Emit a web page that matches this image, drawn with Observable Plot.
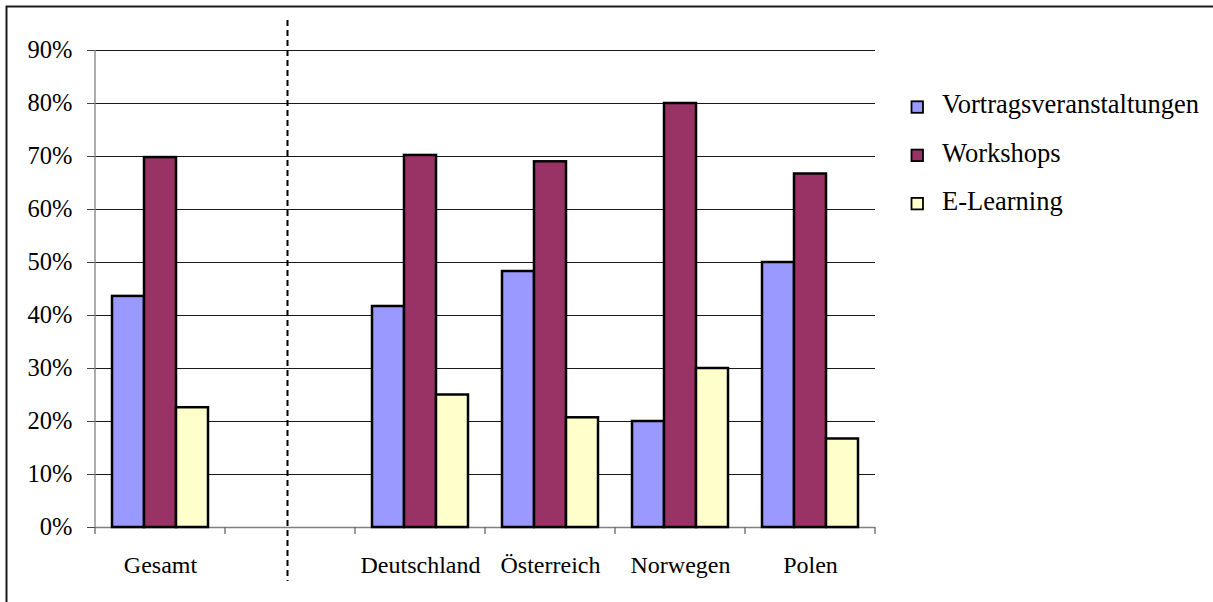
<!DOCTYPE html>
<html>
<head>
<meta charset="utf-8">
<script src="https://cdn.jsdelivr.net/npm/d3@7"></script>
<script src="https://cdn.jsdelivr.net/npm/@observablehq/plot@0.6"></script>
<style>
  html, body { margin: 0; padding: 0; background: #fff; }
  #chart { position: relative; width: 1213px; height: 602px; overflow: hidden; }
  #chart svg, #chart svg text { font-family: "Liberation Serif", "Times New Roman", serif !important; }
</style>
</head>
<body>
<div id="chart"></div>
<script>
// Categories along the x axis (the blank one separates the total from the countries)
const categories = ["Gesamt", " ", "Deutschland", "Österreich", "Norwegen", "Polen"];
const series = ["Vortragsveranstaltungen", "Workshops", "E-Learning"];
const colors = ["#9999FF", "#993366", "#FFFFCC"];

// Shares per category, one list per series
const vortrag   = [0.436, null, 0.417, 0.483, 0.200, 0.500];
const workshops = [0.698, null, 0.702, 0.690, 0.800, 0.667];
const elearning = [0.226, null, 0.250, 0.207, 0.300, 0.167];

const yTicks = [0, 0.1, 0.2, 0.3, 0.4, 0.5, 0.6, 0.7, 0.8, 0.9];
const divider = [" "];

const values = [vortrag, workshops, elearning];
const rows = [];
categories.forEach((c, i) => {
  series.forEach((s, j) => {
    const v = values[j][i];
    if (v != null) rows.push({category: c, series: s, value: v});
  });
});

const pct = d3.format(".0%");
const serif = "'Liberation Serif', 'Times New Roman', serif";

const chart = Plot.plot({
  width: 1213,
  height: 602,
  marginLeft: 94,
  marginRight: 337,
  marginTop: 50,
  marginBottom: 75,
  style: {fontFamily: serif, fontSize: "24px", color: "#000", background: "transparent"},
  fx: {domain: categories, padding: 0, label: null},
  x: {domain: series, paddingInner: 0, paddingOuter: 0.5, axis: null},
  y: {domain: [0, 0.9], label: null},
  color: {domain: series, range: colors},
  marks: [
    Plot.gridY(yTicks.filter(d => d > 0), {stroke: "#000", strokeOpacity: 0.9, strokeWidth: 1}),
    Plot.ruleY([0], {stroke: "#808080", strokeWidth: 1.3}),
    Plot.axisY(yTicks, {tickSize: 8, tickPadding: 15, tickFormat: pct, fontSize: 24.5, fontFamily: serif, stroke: "#444", label: null}),
    Plot.axisFx({anchor: "bottom", tickSize: 0, tickPadding: 28, fontSize: 24, fontFamily: serif, label: null}),
    Plot.barY(rows, {fx: "category", x: "series", y: "value", fill: "series", stroke: "#000", strokeWidth: 2.5}),
    Plot.ruleX(divider, {fx: d => d, x: () => series[1], dx: -3, stroke: "#000", strokeWidth: 2, strokeDasharray: "6,4", insetTop: -30, insetBottom: -54})
  ]
});

// Category boundary ticks, value axis line, chart border and legend
const fx = chart.scale("fx");
const y = chart.scale("y");
const svg = d3.select(chart);
const y0 = y.apply(0);
const yTop = y.apply(0.9);
const bounds = categories.map(c => fx.apply(c));
bounds.push(fx.apply(categories[categories.length - 1]) + fx.bandwidth);

const axisG = svg.append("g").attr("stroke", "#666").attr("stroke-width", 1.3);
bounds.forEach(b => {
  axisG.append("line").attr("x1", b).attr("x2", b).attr("y1", y0).attr("y2", y0 + 7);
});
axisG.append("line").attr("x1", bounds[0]).attr("x2", bounds[0]).attr("y1", yTop).attr("y2", y0).attr("stroke", "#808080");

svg.append("path")
  .attr("d", "M6.5,610V6.5H1220")
  .attr("fill", "none")
  .attr("stroke", "#1a1a1a")
  .attr("stroke-width", 2);

const legend = svg.append("g")
  .attr("font-size", 26.5)
  .attr("font-family", serif)
  .attr("text-anchor", "start")
  .attr("fill", "#000");
series.forEach((s, i) => {
  const base = 113.3 + i * 48.3;
  legend.append("rect")
    .attr("x", 911.5).attr("y", base - 12).attr("width", 11.5).attr("height", 11.5)
    .attr("fill", colors[i]).attr("stroke", "#000").attr("stroke-width", 1.8);
  legend.append("text").attr("x", 942).attr("y", base).text(s);
});

document.getElementById("chart").appendChild(chart);
</script>
</body>
</html>
